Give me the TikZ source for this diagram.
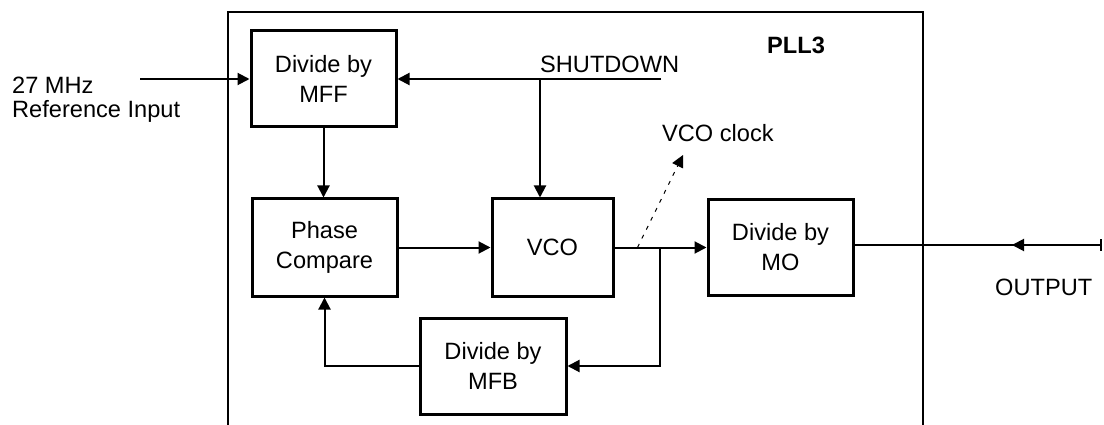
\documentclass[tikz,border=0pt]{standalone}
\usepackage{fontspec}
\setmainfont{Liberation Sans}
\usetikzlibrary{arrows.meta,calc}

\begin{document}
\begin{tikzpicture}[x=1pt,y=-1pt,
  blk/.style={draw,line width=3pt,rectangle,inner sep=0pt,align=center,
    font=\fontsize{23.6}{30}\selectfont},
  lbl/.style={inner sep=0pt,anchor=base west,font=\fontsize{23.6}{28}\selectfont},
  wire/.style={line width=2pt},
  sig/.style={wire,-{Triangle[length=12pt,width=12pt]}},
  frame/.style={line width=2pt}]

\useasboundingbox (0,0) rectangle (1104,425);

% PLL3 enclosure (open at the bottom)
\draw[frame] (228,425) -- (228,12) -- (923,12) -- (923,425);
\node[lbl,font=\fontsize{23.6}{28}\selectfont\bfseries] (pll) at (767,54) {PLL3};

% function blocks
\node[blk,minimum width=145pt,minimum height=96pt] (mff) at (323.5,79) {Divide by\\MFF};
\node[blk,minimum width=145pt,minimum height=97pt] (pc)  at (324.5,247.5) {Phase\\Compare};
\node[blk,minimum width=121pt,minimum height=97pt] (vco) at (552.5,247.5) {VCO};
\node[blk,minimum width=146pt,minimum height=96pt] (mfb) at (493,366) {Divide by\\MFB};
\node[blk,minimum width=145pt,minimum height=95pt] (mo)  at (780.5,247.5) {Divide by\\MO};

% text labels
\node[lbl] (in1) at (12,94) {27 MHz};
\node[lbl] (in2) at (12,118) {Reference Input};
\node[lbl] (sdl) at (540,73) {SHUTDOWN};
\node[lbl] (vcl) at (662,142) {VCO clock};
\node[lbl] (outl) at (995,295) {OUTPUT};

% free ends and junctions
\coordinate (refin) at (140,79);
\coordinate (sd) at (661,79);
\coordinate (sdj) at (540,79);
\coordinate (jn) at (660,247.5);
\coordinate (tap) at ($(vco.east)!0.25!(mo.west)$);
\coordinate (tapend) at (683,155);
\coordinate (outend) at (1102,245);
\coordinate (outtip) at (1012,245);

% connectors
\draw[sig] (refin) -- (mff.west);
\draw[sig] (sd) -- (mff.east);
\draw[sig] (sdj) -- (sdj |- vco.north);
\draw[sig] (mff.south) -- (mff.south |- pc.north);
\draw[sig] (pc.east) -- (vco.west);
\draw[sig] (vco.east) -- (mo.west);
\draw[sig] (jn) |- (mfb.east);
\draw[sig] (mfb.west) -| (pc.south);
\draw[wire] (mo.east |- outend) -- (outend);
\draw[wire,{Bar[width=12pt]}-{Triangle[length=12pt,width=12pt]}] (outend) -- (outtip);
\draw[line width=1pt,dash pattern=on 4pt off 6pt,-{Triangle[length=12pt,width=12pt]}] (tap) -- (tapend);

\end{tikzpicture}
\end{document}
